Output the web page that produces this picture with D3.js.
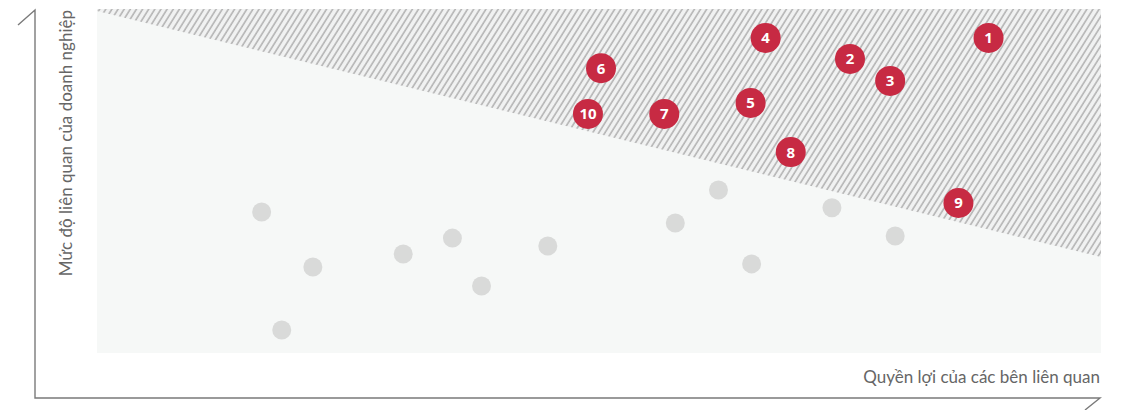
<!DOCTYPE html>
<html>
<head>
<meta charset="utf-8">
<script src="https://cdn.jsdelivr.net/npm/d3@7"></script>
<style>
  html, body { margin: 0; padding: 0; background: #fff; }
  svg { display: block; font-family: Lato, "Open Sans", sans-serif; }
</style>
</head>
<body>
<svg id="chart" width="1126" height="410"></svg>
<script>
// Highlighted (material) topics: id, x = stakeholder interest, y = business relevance
const topicIds = [1, 2, 3, 4, 5, 6, 7, 8, 9, 10];
const topicX   = [88.8, 75.0, 79.0, 66.6, 65.1, 50.2, 56.5, 69.1, 85.8, 48.9];
const topicY   = [91.6, 85.5, 79.1, 91.6, 72.7, 82.8, 69.5, 58.4, 43.6, 69.5];

// Other (non-material) topics
const otherX = [16.4, 21.5, 18.4, 30.5, 35.4, 38.3, 44.9, 57.6, 61.9, 65.2, 73.2, 79.5];
const otherY = [41.0, 25.0, 6.7, 28.8, 33.4, 19.5, 31.1, 37.8, 47.4, 25.9, 42.2, 34.0];

// Materiality threshold: y value at left and right edge of the plot
const thresholdX = [0, 100];
const thresholdY = [99.4, 27.9];

const xLabel = "Quyền lợi của các bên liên quan";
const yLabel = "Mức độ liên quan của doanh nghiệp";

const svg = d3.select("#chart");
const plot = { left: 97, right: 1101, top: 9, bottom: 353 };

const x = d3.scaleLinear().domain([0, 100]).range([plot.left, plot.right]);
const y = d3.scaleLinear().domain([0, 100]).range([plot.bottom, plot.top]);

// hatch pattern
const defs = svg.append("defs");
const pat = defs.append("pattern")
    .attr("id", "hatch").attr("patternUnits", "userSpaceOnUse")
    .attr("width", 5.2).attr("height", 10)
    .attr("patternTransform", "rotate(32)");
pat.append("rect").attr("width", 5.2).attr("height", 10).attr("fill", "#f1f2f2");
pat.append("line")
    .attr("x1", 1).attr("y1", 0).attr("x2", 1).attr("y2", 10)
    .attr("stroke", "#b4b4b4").attr("stroke-width", 1.6);

// plot background
svg.append("rect")
    .attr("x", plot.left).attr("y", plot.top)
    .attr("width", plot.right - plot.left).attr("height", plot.bottom - plot.top)
    .attr("fill", "#f6f8f7");

// hatched area above threshold
const zone = [
    [x(thresholdX[0]), y(thresholdY[0])],
    [x(thresholdX[1]), y(thresholdY[1])],
    [x(100), y(100)],
    [x(0), y(100)]
];
svg.append("path")
    .attr("d", d3.line()(zone) + "Z")
    .attr("fill", "url(#hatch)");

// axes frame (with little slanted ends)
svg.append("path")
    .attr("d", "M18,25L35,10V398H1100L1085,410")
    .attr("fill", "none").attr("stroke", "#7a7a7a").attr("stroke-width", 1.4);

svg.append("text")
    .attr("x", 1100).attr("y", 383)
    .attr("text-anchor", "end")
    .attr("font-size", 17).attr("font-weight", 400)
    .attr("fill", "#666")
    .text(xLabel);

svg.append("text")
    .attr("transform", "translate(72,10) rotate(-90)")
    .attr("text-anchor", "end")
    .attr("font-size", 17).attr("font-weight", 400)
    .attr("fill", "#666")
    .text(yLabel);

// gray points
svg.append("g").selectAll("circle")
    .data(otherX.map((v, i) => ({ x: v, y: otherY[i] })))
    .join("circle")
    .attr("cx", d => x(d.x)).attr("cy", d => y(d.y))
    .attr("r", 9.5).attr("fill", "#d9dad9");

// red numbered points
const g = svg.append("g").selectAll("g")
    .data(topicIds.map((id, i) => ({ id, x: topicX[i], y: topicY[i] })))
    .join("g")
    .attr("transform", d => `translate(${x(d.x)},${y(d.y)})`);
g.append("circle").attr("r", 15).attr("fill", "#c72a43");
g.append("text")
    .attr("text-anchor", "middle").attr("dy", "0.36em")
    .attr("fill", "#fff").attr("font-size", 15).attr("font-weight", 700)
    .attr("font-family", "'Noto Sans', sans-serif")
    .text(d => d.id);
</script>
</body>
</html>
